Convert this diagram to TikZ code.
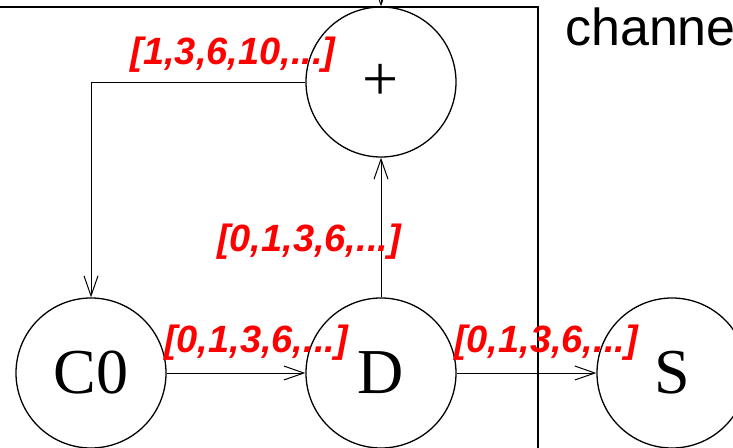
\documentclass[tikz,border=0pt]{standalone}
\usepackage{fontspec}
\setmainfont{Liberation Serif}
\newfontfamily\labfont{Liberation Sans}
\usetikzlibrary{arrows.meta}
\begin{document}
\begin{tikzpicture}[x=1pt,y=-1pt,
 state/.style={circle,draw,line width=1.3pt,minimum size=150pt,inner sep=0pt,font=\fontsize{64}{64}\selectfont},
 conn/.style={line width=1pt,-{Straight Barb[length=20pt,width=14pt,line width=1pt]}},
 seq/.style={text=red,font=\labfont\bfseries\itshape\fontsize{38}{38}\selectfont,inner sep=0pt},
 frame/.style={line width=2pt},
 title/.style={font=\labfont\fontsize{52}{52}\selectfont,inner sep=0pt,anchor=base west}]
\useasboundingbox (0,0) rectangle (733,447);
\node[state] (plus) at (381,82) {+};
\node[state] (c0) at (91,373) {C0};
\node[state] (d) at (381,373) {D};
\node[state] (s) at (672,373) {S};
\coordinate (top) at (381,-30);
\coordinate (f1) at (-10,7);
\coordinate (f2) at (538,7);
\coordinate (f3) at (538,460);
\draw[frame] (f1) -- (f2) -- (f3);
\draw[conn] (top) -- (plus.north);
\draw[conn] (c0) -- (d);
\draw[conn] (d) -- (s);
\draw[conn] (d) -- (plus);
\draw[conn] (plus.west) -| (c0.north);
\node[seq] (l1) at (233,55) {[1,3,6,10,...]};
\node[seq] (l2) at (309,242) {[0,1,3,6,...]};
\node[seq] (l3) at (256,343) {[0,1,3,6,...]};
\node[seq] (l4) at (546,343) {[0,1,3,6,...]};
\node[title] (ch) at (565,45) {channe};
\end{tikzpicture}
\end{document}
